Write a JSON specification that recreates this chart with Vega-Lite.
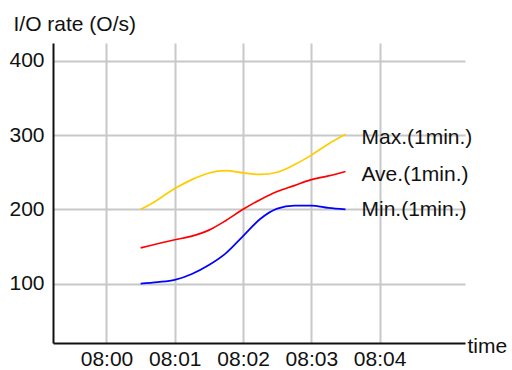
{
  "$schema": "https://vega.github.io/schema/vega-lite/v6.json",
  "autosize": "none",
  "width": 412,
  "height": 300,
  "padding": {"left": 53, "top": 43, "right": 47, "bottom": 27},
  "background": "white",
  "config": {
    "view": {"stroke": null},
    "font": "Liberation Sans",
    "axis": {
      "labelFont": "Liberation Sans",
      "titleFont": "Liberation Sans",
      "labelFontSize": 21,
      "titleFontSize": 21,
      "labelColor": "#111111",
      "titleColor": "#111111",
      "titleFontWeight": "normal",
      "ticks": false,
      "domainColor": "#111111",
      "domainWidth": 2,
      "gridColor": "#c8c8c8",
      "gridWidth": 2,
      "gridOpacity": 1
    }
  },
  "datasets": {
    "series": [
      {"t": "2024-01-01T08:00:30", "v": 200, "s": "Max"},
      {"t": "2024-01-01T08:00:42", "v": 210, "s": "Max"},
      {"t": "2024-01-01T08:01:00", "v": 228, "s": "Max"},
      {"t": "2024-01-01T08:01:15", "v": 240, "s": "Max"},
      {"t": "2024-01-01T08:01:30", "v": 249, "s": "Max"},
      {"t": "2024-01-01T08:01:45", "v": 252, "s": "Max"},
      {"t": "2024-01-01T08:02:00", "v": 249, "s": "Max"},
      {"t": "2024-01-01T08:02:15", "v": 247, "s": "Max"},
      {"t": "2024-01-01T08:02:30", "v": 250, "s": "Max"},
      {"t": "2024-01-01T08:02:45", "v": 260, "s": "Max"},
      {"t": "2024-01-01T08:03:00", "v": 273, "s": "Max"},
      {"t": "2024-01-01T08:03:15", "v": 288, "s": "Max"},
      {"t": "2024-01-01T08:03:30", "v": 301, "s": "Max"},
      {"t": "2024-01-01T08:00:30", "v": 148, "s": "Ave"},
      {"t": "2024-01-01T08:01:00", "v": 159, "s": "Ave"},
      {"t": "2024-01-01T08:01:15", "v": 164, "s": "Ave"},
      {"t": "2024-01-01T08:01:30", "v": 172, "s": "Ave"},
      {"t": "2024-01-01T08:01:45", "v": 185, "s": "Ave"},
      {"t": "2024-01-01T08:02:00", "v": 200, "s": "Ave"},
      {"t": "2024-01-01T08:02:15", "v": 213, "s": "Ave"},
      {"t": "2024-01-01T08:02:30", "v": 224, "s": "Ave"},
      {"t": "2024-01-01T08:02:45", "v": 232, "s": "Ave"},
      {"t": "2024-01-01T08:03:00", "v": 240, "s": "Ave"},
      {"t": "2024-01-01T08:03:15", "v": 245, "s": "Ave"},
      {"t": "2024-01-01T08:03:30", "v": 251, "s": "Ave"},
      {"t": "2024-01-01T08:00:30", "v": 100, "s": "Min"},
      {"t": "2024-01-01T08:00:45", "v": 102, "s": "Min"},
      {"t": "2024-01-01T08:01:00", "v": 105, "s": "Min"},
      {"t": "2024-01-01T08:01:15", "v": 113, "s": "Min"},
      {"t": "2024-01-01T08:01:30", "v": 125, "s": "Min"},
      {"t": "2024-01-01T08:01:45", "v": 141, "s": "Min"},
      {"t": "2024-01-01T08:02:00", "v": 164, "s": "Min"},
      {"t": "2024-01-01T08:02:15", "v": 187, "s": "Min"},
      {"t": "2024-01-01T08:02:30", "v": 201, "s": "Min"},
      {"t": "2024-01-01T08:02:45", "v": 205, "s": "Min"},
      {"t": "2024-01-01T08:03:00", "v": 205, "s": "Min"},
      {"t": "2024-01-01T08:03:15", "v": 202, "s": "Min"},
      {"t": "2024-01-01T08:03:30", "v": 200, "s": "Min"}
    ],
    "labels": [
      {"t": "2024-01-01T08:03:30", "v": 296, "label": "Max.(1min.)"},
      {"t": "2024-01-01T08:03:30", "v": 246, "label": "Ave.(1min.)"},
      {"t": "2024-01-01T08:03:30", "v": 199, "label": "Min.(1min.)"}
    ]
  },
  "encoding": {
    "x": {
      "field": "t",
      "type": "temporal",
      "scale": {
        "domain": [
          {"year": 2024, "month": 1, "date": 1, "hours": 7, "minutes": 59, "seconds": 13},
          {"year": 2024, "month": 1, "date": 1, "hours": 8, "minutes": 5, "seconds": 15}
        ]
      },
      "axis": {
        "values": [
          {"year": 2024, "month": 1, "date": 1, "hours": 8, "minutes": 0},
          {"year": 2024, "month": 1, "date": 1, "hours": 8, "minutes": 1},
          {"year": 2024, "month": 1, "date": 1, "hours": 8, "minutes": 2},
          {"year": 2024, "month": 1, "date": 1, "hours": 8, "minutes": 3},
          {"year": 2024, "month": 1, "date": 1, "hours": 8, "minutes": 4}
        ],
        "format": "%H:%M",
        "labelPadding": 5,
        "labelFlush": false,
        "title": "time",
        "titleAngle": 0,
        "titleAlign": "left",
        "titleBaseline": "middle",
        "titleX": 414,
        "titleY": 3
      }
    },
    "y": {
      "field": "v",
      "type": "quantitative",
      "scale": {"domain": [20, 424], "nice": false, "zero": false},
      "axis": {
        "values": [100, 200, 300, 400],
        "labelPadding": 9,
        "title": "I/O rate (O/s)",
        "titleAngle": 0,
        "titleAlign": "left",
        "titleBaseline": "middle",
        "titleX": -40,
        "titleY": -19
      }
    }
  },
  "layer": [
    {
      "data": {"name": "series"},
      "mark": {"type": "line", "interpolate": "monotone", "strokeWidth": 1.7},
      "encoding": {
        "color": {
          "field": "s",
          "type": "nominal",
          "scale": {"domain": ["Max", "Ave", "Min"], "range": ["#ffcc00", "#ff0000", "#0000ff"]},
          "legend": null
        }
      }
    },
    {
      "data": {"name": "labels"},
      "mark": {"type": "text", "align": "left", "baseline": "middle", "dx": 16, "fontSize": 21, "font": "Liberation Sans", "color": "#111111"},
      "encoding": {"text": {"field": "label"}}
    }
  ]
}
